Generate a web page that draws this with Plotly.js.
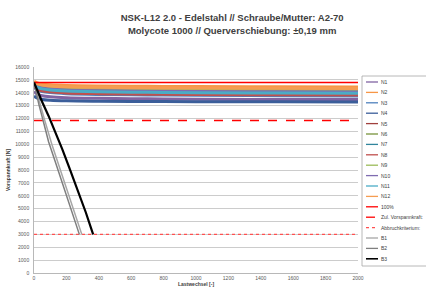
<!DOCTYPE html>
<html><head><meta charset="utf-8">
<script src="https://cdn.plot.ly/plotly-3.0.1.min.js"></script>
<style>html,body{margin:0;padding:0;background:#fff}#c{width:426px;height:293px}</style>
</head><body><div id="c"></div>
<script>
const cycles = [0, 10, 25, 50, 100, 200, 400, 700, 1000, 1500, 2000];
const seriesNames = ['N1','N2','N3','N4','N5','N6','N7','N8','N9','N10','N11','N12'];
const seriesColors = ['#8064A2','#F79646','#4F81BD','#3B5E9A','#A0403D','#77933C','#31859C','#C0504D','#9BBB59','#7F6CB0','#4BACC6','#F59D52'];
const N1  = [14100,13980,13870,13770,13690,13620,13570,13530,13500,13480,13470];
const N2  = [14900,14820,14750,14680,14620,14570,14530,14500,14480,14460,14450];
const N3  = [14450,14320,14200,14100,14010,13930,13870,13830,13800,13770,13750];
const N4  = [13750,13650,13560,13480,13420,13370,13340,13320,13310,13300,13290];
const N5  = [14600,14480,14370,14270,14180,14100,14040,14000,13970,13950,13940];
const N6  = [14750,14640,14540,14450,14370,14300,14250,14210,14180,14160,14150];
const N7  = [14550,14420,14300,14200,14110,14030,13970,13930,13900,13870,13860];
const N8  = [14500,14380,14260,14160,14070,13990,13930,13890,13860,13840,13830];
const N9  = [14800,14700,14610,14520,14450,14390,14340,14300,14270,14250,14240];
const N10 = [14700,14580,14470,14370,14290,14220,14160,14120,14090,14070,14050];
const N11 = [14650,14520,14400,14300,14210,14130,14070,14030,14000,13980,13960];
const N12 = [14850,14760,14680,14600,14530,14470,14420,14380,14360,14340,14330];
const seriesValues = [N1,N2,N3,N4,N5,N6,N7,N8,N9,N10,N11,N12];

const refX = [0, 2000];
const ref100 = 14800;
const refZul = 11840;
const refAbbruch = 3000;

const B1x = [0,15,40,70,110,150,200,250,295];
const B1y = [14800,14100,12900,11700,10000,8500,6700,4800,3000];
const B2x = [0,10,30,55,90,135,180,230,280];
const B2y = [14800,14200,13100,11900,10200,8500,6800,4900,3000];
const B3x = [0,20,50,90,130,175,220,270,320,365];
const B3y = [14800,14150,13300,12200,11000,9600,8100,6400,4700,3000];

const titleText = 'NSK-L12 2.0 - Edelstahl // Schraube/Mutter: A2-70<br>Molycote 1000 // Querverschiebung: ±0,19 mm';
const xTitle = 'Lastwechsel [-]';
const yTitle = 'Vorspannkraft [N]';

const legendNames = seriesNames.concat(['100%','Zul. Vorspannkraft:','Abbruchkriterium:','B1','B2','B3']);
const legendColors = seriesColors.concat(['#FF0000','#FF0000','#FF5050','#A6A6A6','#7F7F7F','#000000']);
const legendDash = seriesNames.map(()=> 'solid').concat(['solid','dash','dot','solid','solid','solid']);

const traces = [];
seriesValues.forEach((v,i)=>{
  traces.push({x: cycles, y: v, type:'scatter', mode:'lines', name: seriesNames[i],
    line:{color: seriesColors[i], width:3, shape:'spline'}, hoverinfo:'skip'});
});
traces.push({x: refX, y: [ref100, ref100], type:'scatter', mode:'lines', name:'100%', line:{color:'#FF0000', width:1.6}});
traces.push({x: refX, y: [refZul, refZul], type:'scatter', mode:'lines', name:legendNames[13], line:{color:'#FF0000', width:1.6, dash:'dash'}});
traces.push({x: refX, y: [refAbbruch, refAbbruch], type:'scatter', mode:'lines', name:legendNames[14], line:{color:'#FF5050', width:1.4, dash:'dot'}});
traces.push({x: B1x, y: B1y, type:'scatter', mode:'lines', name:'B1', line:{color:'#A6A6A6', width:1.5}});
traces.push({x: B2x, y: B2y, type:'scatter', mode:'lines', name:'B2', line:{color:'#7F7F7F', width:1.5}});
traces.push({x: B3x, y: B3y, type:'scatter', mode:'lines', name:'B3', line:{color:'#000000', width:2.2}});

// custom legend (paper coords)
const L = 34, R = 358, T = 67, Bm = 273;
const px = (p)=> (p - L) / (R - L);
const py = (p)=> (Bm - p) / (Bm - T);
const shapes = [{type:'rect', xref:'paper', yref:'paper', x0: px(362), x1: px(440), y0: py(266), y1: py(76),
  line:{color:'#A6A6A6', width:0.8}, fillcolor:'rgba(0,0,0,0)'}];
const annotations = [];
legendNames.forEach((n,i)=>{
  const yy = 82 + i*10.4;
  shapes.push({type:'line', xref:'paper', yref:'paper', x0: px(366), x1: px(378), y0: py(yy), y1: py(yy),
    line:{color: legendColors[i], width: i===17 ? 1.6 : 1.3, dash: legendDash[i]}});
  annotations.push({xref:'paper', yref:'paper', x: px(379), y: py(yy), xanchor:'left', yanchor:'middle',
    text: n, showarrow:false, font:{size:5, color:'#404040', family:'Liberation Sans'}});
});

const layout = {
  width: 426, height: 293,
  margin: {l: L, r: 426 - R, t: T, b: 293 - Bm},
  paper_bgcolor:'#fff', plot_bgcolor:'#fff',
  showlegend:false,
  title: {text: titleText, x: 0.545, xref:'container', xanchor:'center', y: 0.927, yref:'container', yanchor:'top',
    font:{family:'Liberation Sans', size:9.5, color:'#404040', weight:'bold'}},
  xaxis: {range:[0,2000], dtick:200, tick0:0, showgrid:false, zeroline:false, showline:true, linecolor:'#A6A6A6', linewidth:0.8,
    ticks:'', tickformat:'d', tickfont:{size:5, color:'#595959', family:'Liberation Sans'},
    title:{text: xTitle, standoff:2, font:{size:5, color:'#404040', family:'Liberation Sans', weight:'bold'}}},
  yaxis: {range:[0,16000], dtick:1000, tick0:0, showgrid:true, gridcolor:'#BFBFBF', gridwidth:0.8, zeroline:false,
    showline:true, linecolor:'#A6A6A6', linewidth:0.8, ticks:'', ticklabelstandoff:3, tickformat:'d',
    tickfont:{size:5, color:'#595959', family:'Liberation Sans'},
    title:{text: yTitle, standoff:4, font:{size:5, color:'#404040', family:'Liberation Sans', weight:'bold'}}},
  shapes: shapes, annotations: annotations
};
Plotly.newPlot('c', traces, layout, {staticPlot:true, displayModeBar:false});
</script></body></html>
